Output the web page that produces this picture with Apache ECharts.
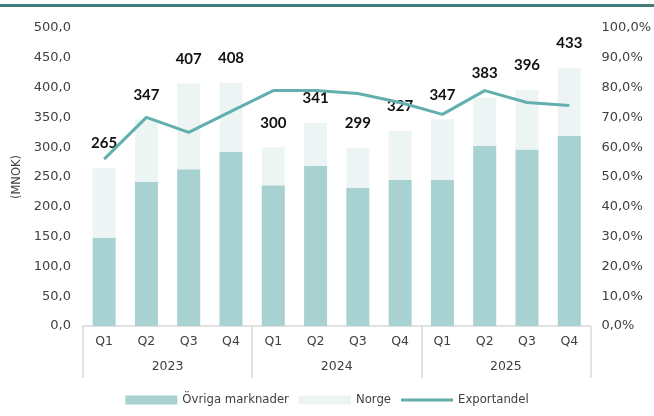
<!DOCTYPE html>
<html>
<head>
<meta charset="utf-8">
<script src="https://cdn.jsdelivr.net/npm/echarts@6/dist/echarts.min.js"></script>
<style>
html,body{margin:0;padding:0;background:#fff;}
#chart{width:654px;height:416px;}
</style>
</head>
<body>
<div id="chart"></div>
<script>
const quarters = ['Q1','Q2','Q3','Q4','Q1','Q2','Q3','Q4','Q1','Q2','Q3','Q4'];
const years = ['2023','2024','2025'];
const ovriga = [148,242,263,292,236,269,232,245,245,302,296,319];
const norge = [117,105,144,116,64,72,67,82,102,81,100,114];
const exportandel = [56,70,65,72,79,79,78,75,71,79,75,74];

const totals = ovriga.map((v,i)=>v+norge[i]);
const FONT = '"DejaVu Sans"';
const LFONT = 'Lato';
const TXT = '#404040';
const chart = echarts.init(document.getElementById('chart'));
chart.setOption({
  animation:false,
  textStyle:{fontFamily:FONT},
  graphic:[{type:'rect',shape:{x:0,y:4,width:654,height:3},style:{fill:'#417d7b'},silent:true}],
  grid:{left:83,right:61,top:28,bottom:90},
  legend:{
    bottom:5,left:'center',itemWidth:52,itemHeight:9,itemGap:10,
    textStyle:{fontFamily:FONT,fontSize:11.7,color:TXT},
    data:[{name:'Övriga marknader',icon:'rect'},{name:'Norge',icon:'rect'},
          {name:'Exportandel',icon:'path://M0,0L52,0ZM0,3L52,3L52,6L0,6ZM0,9L52,9Z',itemStyle:{color:'#62afad',borderWidth:0}}]
  },
  xAxis:[
    {type:'category',data:quarters,position:'bottom',
     axisLine:{show:true,lineStyle:{color:'#d9d9d9',width:1.5}},
     axisTick:{show:false},
     axisLabel:{color:TXT,fontSize:12.5,margin:9,interval:0}},
    {type:'category',data:years,position:'bottom',offset:0,
     axisLine:{show:false},
     axisTick:{show:true,length:52,lineStyle:{color:'#d9d9d9',width:1.5}},
     axisLabel:{color:TXT,fontSize:12.5,margin:34}}
  ],
  yAxis:[
    {type:'value',min:0,max:500,interval:50,
     name:'(MNOK)',nameLocation:'middle',nameRotate:90,nameGap:59,
     nameTextStyle:{color:TXT,fontSize:11.5,fontFamily:FONT},
     splitLine:{show:false},axisLine:{show:false},axisTick:{show:false},
     axisLabel:{color:TXT,fontSize:13,margin:12,formatter:v=>v.toFixed(1).replace('.',',')}},
    {type:'value',min:0,max:100,interval:10,position:'right',
     splitLine:{show:false},axisLine:{show:false},axisTick:{show:false},
     axisLabel:{color:TXT,fontSize:13,margin:11,formatter:v=>v.toFixed(1).replace('.',',')+'%'}}
  ],
  series:[
    {name:'Övriga marknader',type:'bar',stack:'s',data:ovriga,barWidth:23,
     itemStyle:{color:'#a8d1d1'}},
    {name:'Norge',type:'bar',stack:'s',data:norge,barWidth:23,
     itemStyle:{color:'#edf5f4'},
     label:{show:true,position:'top',distance:17,color:'#111',fontWeight:'bold',fontSize:15,fontFamily:LFONT,
       formatter:p=>String(totals[p.dataIndex])}},
    {name:'Exportandel',type:'line',yAxisIndex:1,xAxisIndex:0,data:exportandel,
     symbol:'none',lineStyle:{color:'#62afad',width:3},itemStyle:{color:'#62afad'},z:3}
  ]
});
</script>
</body>
</html>
